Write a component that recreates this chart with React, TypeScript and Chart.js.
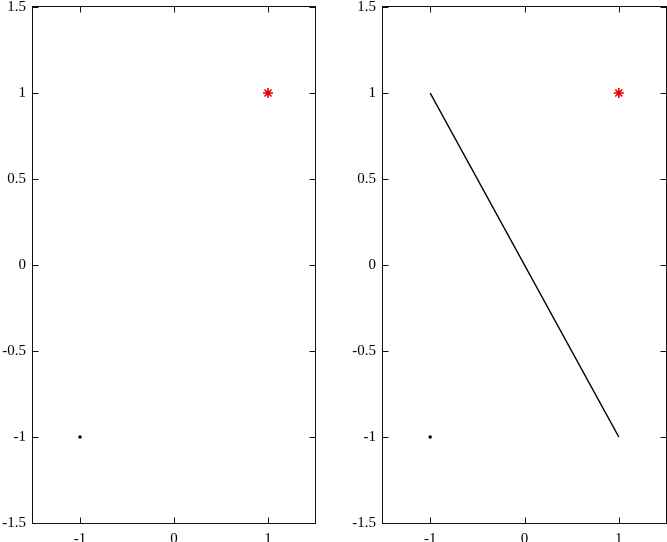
import React, { useEffect, useRef } from "react";
import { Chart, registerables } from "chart.js";

Chart.register(...registerables);

const xTicks = [-1, 0, 1];
const yTicks = [-1.5, -1, -0.5, 0, 0.5, 1, 1.5];
const axisMin = -1.5;
const axisMax = 1.5;
const dotPoint = [{ x: -1, y: -1 }];
const starPoint = [{ x: 1, y: 1 }];
const linePoints = [
  { x: -1, y: 1 },
  { x: 1, y: -1 },
];

const frame = {
  id: "frame",
  afterDatasetsDraw(chart: any) {
    const { ctx, chartArea: a, scales } = chart;
    ctx.save();
    ctx.strokeStyle = "#111";
    ctx.lineWidth = 1;
    const L = Math.round(a.left) - 0.5;
    const R = Math.round(a.right) + 0.5;
    const T = Math.round(a.top) - 0.5;
    const B = Math.round(a.bottom) + 0.5;
    ctx.strokeRect(L, T, R - L, B - T);
    const len = 6;
    ctx.beginPath();
    for (const v of xTicks) {
      const px = Math.round(scales.x.getPixelForValue(v)) + 0.5;
      ctx.moveTo(px, B);
      ctx.lineTo(px, B - len);
      ctx.moveTo(px, T);
      ctx.lineTo(px, T + len);
    }
    for (const v of yTicks) {
      const py = Math.round(scales.y.getPixelForValue(v)) + 0.5;
      ctx.moveTo(L, py);
      ctx.lineTo(L + len, py);
      ctx.moveTo(R, py);
      ctx.lineTo(R - len, py);
    }
    ctx.stroke();
    ctx.restore();
  },
};

const font = { family: "'Liberation Serif', serif", size: 15 };

function makeOptions(padLeft: number, padRight: number) {
  return {
    responsive: false,
    animation: false as const,
    events: [],
    layout: { autoPadding: false, padding: { top: 7, bottom: 0, left: padLeft, right: padRight } },
    plugins: { legend: { display: false }, tooltip: { enabled: false } },
    scales: {
      x: {
        type: "linear" as const,
        min: axisMin,
        max: axisMax,
        grid: { display: false, drawTicks: false },
        border: { display: false },
        ticks: { color: "#000", font, padding: 7, maxRotation: 0, autoSkip: false, callback: (v: any) => String(v) },
        afterBuildTicks: (s: any) => {
          s.ticks = xTicks.map((v) => ({ value: v }));
        },
        afterFit: (s: any) => {
          s.height = 19;
          s.paddingLeft = 0;
          s.paddingRight = 0;
        },
      },
      y: {
        type: "linear" as const,
        min: axisMin,
        max: axisMax,
        grid: { display: false, drawTicks: false },
        border: { display: false },
        ticks: { color: "#000", font, padding: 7, autoSkip: false, callback: (v: any) => String(v) },
        afterBuildTicks: (s: any) => {
          s.ticks = yTicks.map((v) => ({ value: v }));
        },
        afterFit: (s: any) => {
          s.width = 33;
          s.paddingTop = 0;
          s.paddingBottom = 0;
        },
      },
    },
  };
}

function markerSets() {
  return [
    {
      type: "scatter" as const,
      data: dotPoint,
      pointRadius: 1.8,
      pointBackgroundColor: "#000",
      pointBorderColor: "#000",
      pointBorderWidth: 0,
      clip: false,
    },
    {
      type: "scatter" as const,
      data: starPoint,
      pointStyle: "star",
      pointRadius: 5,
      pointBorderColor: "#e60000",
      pointBackgroundColor: "#e60000",
      pointBorderWidth: 1.6,
      clip: false,
    },
  ];
}

function Panel({ left, width, withLine, padLeft, padRight }: any) {
  const ref = useRef<HTMLCanvasElement>(null);
  useEffect(() => {
    const datasets: any[] = [];
    if (withLine) {
      datasets.push({
        type: "line",
        data: linePoints,
        borderColor: "#000",
        borderWidth: 1.5,
        pointRadius: 0,
        fill: false,
        tension: 0,
      });
    }
    datasets.push(...markerSets());
    const chart = new Chart(ref.current as HTMLCanvasElement, {
      type: "scatter",
      data: { datasets },
      options: makeOptions(padLeft, padRight) as any,
      plugins: [frame],
    });
    return () => chart.destroy();
  }, []);
  return (
    <canvas
      ref={ref}
      width={width}
      height={542}
      style={{ position: "absolute", left, top: 0, width, height: 542 }}
    />
  );
}

export default function App() {
  return (
    <div>
      <Panel left={0} width={340} withLine={false} padLeft={0} padRight={25} />
      <Panel left={340} width={327} withLine={true} padLeft={10} padRight={1} />
    </div>
  );
}
